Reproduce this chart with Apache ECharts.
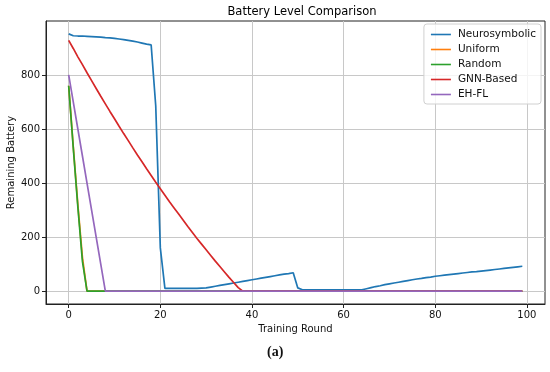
<!DOCTYPE html>
<html>
<head>
<meta charset="utf-8">
<script src="https://cdn.jsdelivr.net/npm/echarts@6/dist/echarts.min.js"></script>
<style>html,body{margin:0;padding:0;background:#fff}#c{width:550px;height:372px}</style>
</head>
<body>
<div id="c"></div>
<script>
const rounds = [0,1,2,3,4,5,6,7,8,9,10,11,12,13,14,15,16,17,18,19,20,21,22,23,24,25,26,27,28,29,30,31,32,33,34,35,36,37,38,39,40,41,42,43,44,45,46,47,48,49,50,51,52,53,54,55,56,57,58,59,60,61,62,63,64,65,66,67,68,69,70,71,72,73,74,75,76,77,78,79,80,81,82,83,84,85,86,87,88,89,90,91,92,93,94,95,96,97,98,99];

const neurosymbolic = [952,945,944,944,943,942,941,940,938,937,
  935,933,931,928,925,922,918,914,911,685,
  160,10,10,10,10,10,10,10,10,11,
  12,15,18,21,24,27,30,33,36,39,
  42,45,48,51,54,57,60,63,65,68,
  12,5,5,5,5,5,5,5,5,5,
  5,5,5,5,5,9,13,17,20,24,
  27,30,33,36,39,42,45,47,50,52,
  55,57,59,61,63,65,67,69,71,72,
  74,76,78,80,82,84,86,88,90,92];

const uniform = [760,535,320,125,0,0,0,0,0,0,
  0,0,0,0,0,0,0,0,0,0, 0,0,0,0,0,0,0,0,0,0,
  0,0,0,0,0,0,0,0,0,0, 0,0,0,0,0,0,0,0,0,0,
  0,0,0,0,0,0,0,0,0,0, 0,0,0,0,0,0,0,0,0,0,
  0,0,0,0,0,0,0,0,0,0, 0,0,0,0,0,0,0,0,0,0,
  0,0,0,0,0,0,0,0,0,0];

const random = [760,530,312,110,0,0,0,0,0,0,
  0,0,0,0,0,0,0,0,0,0, 0,0,0,0,0,0,0,0,0,0,
  0,0,0,0,0,0,0,0,0,0, 0,0,0,0,0,0,0,0,0,0,
  0,0,0,0,0,0,0,0,0,0, 0,0,0,0,0,0,0,0,0,0,
  0,0,0,0,0,0,0,0,0,0, 0,0,0,0,0,0,0,0,0,0,
  0,0,0,0,0,0,0,0,0,0];

const gnnBased = [928,898,867,838,808,779,750,721,693,665,
  638,610,583,557,530,504,479,453,428,403,
  379,355,331,308,285,262,239,217,195,174,
  153,132,111,91,71,51,32,13,0,0,
  0,0,0,0,0,0,0,0,0,0, 0,0,0,0,0,0,0,0,0,0,
  0,0,0,0,0,0,0,0,0,0, 0,0,0,0,0,0,0,0,0,0,
  0,0,0,0,0,0,0,0,0,0, 0,0,0,0,0,0,0,0,0,0];

const ehfl = [800,700,600,500,400,300,200,100,0,0,
  0,0,0,0,0,0,0,0,0,0, 0,0,0,0,0,0,0,0,0,0,
  0,0,0,0,0,0,0,0,0,0, 0,0,0,0,0,0,0,0,0,0,
  0,0,0,0,0,0,0,0,0,0, 0,0,0,0,0,0,0,0,0,0,
  0,0,0,0,0,0,0,0,0,0, 0,0,0,0,0,0,0,0,0,0,
  0,0,0,0,0,0,0,0,0,0];

const seriesNames = ['Neurosymbolic','Uniform','Random','GNN-Based','EH-FL'];
const seriesValues = [neurosymbolic, uniform, random, gnnBased, ehfl];
const colors = ['#1f77b4','#ff7f0e','#2ca02c','#d62728','#9467bd'];
const xTicks = [0,20,40,60,80,100];
const yTicks = [0,200,400,600,800];

const FONT = 'DejaVu Sans';
const chart = echarts.init(document.getElementById('c'), null, {renderer:'canvas'});
const axisCommon = {
  axisLine:{show:true,onZero:false,lineStyle:{color:'#222',width:1}},
  axisTick:{show:true,length:4,lineStyle:{color:'#222',width:1}},
  splitLine:{show:true,lineStyle:{color:'#c8c8c8',width:1}},
  nameMoveOverlap:false,
  nameTextStyle:{fontFamily:FONT,fontSize:10,color:'#111'}
};
chart.setOption({
  animation:false,
  backgroundColor:'#fff',
  title:{text:'Battery Level Comparison',left:297,top:1,textAlign:'center',
    textStyle:{fontFamily:FONT,fontSize:11.5,fontWeight:'normal',color:'#000'}},
  legend:{orient:'vertical',right:9,top:24,itemWidth:20,itemHeight:12,itemGap:4,
    icon:'path://M0,0 L20,0 L20,1.6 L0,1.6 Z',
    padding:[5,5,4,7],backgroundColor:'rgba(255,255,255,0.8)',borderColor:'#d0d0d0',borderWidth:1,borderRadius:3,
    textStyle:{fontFamily:FONT,fontSize:10.5,color:'#111',padding:[0,0,0,2]},
    data:seriesNames},
  grid:{left:46,right:5,top:21,bottom:68,show:true,borderColor:'#222',borderWidth:1,containLabel:false,outerBoundsMode:'none'},
  xAxis:Object.assign({},axisCommon,{type:'value',min:-4.95,max:103.95,
    name:'Training Round',nameLocation:'middle',nameGap:20,
    axisTick:Object.assign({},axisCommon.axisTick,{customValues:xTicks}),
    axisLabel:{customValues:xTicks,fontFamily:FONT,fontSize:10,color:'#111',margin:6}}),
  yAxis:Object.assign({},axisCommon,{type:'value',min:-47.6,max:999.6,
    name:'Remaining Battery',nameLocation:'middle',nameGap:30,
    axisTick:Object.assign({},axisCommon.axisTick,{customValues:yTicks}),
    axisLabel:{customValues:yTicks,fontFamily:FONT,fontSize:10,color:'#111',margin:6}}),
  graphic:[{type:'text',left:267,top:345,style:{text:'(a)',fontFamily:'Liberation Serif',fontSize:14,fontWeight:'bold',fill:'#111'}}],
  series:seriesNames.map((n,k)=>({
    name:n,type:'line',symbol:'none',showSymbol:false,
    data:rounds.map((r,i)=>[r,seriesValues[k][i]]),
    lineStyle:{width:1.7,color:colors[k]},itemStyle:{color:colors[k]},
    emphasis:{disabled:true}
  }))
});
</script>
</body>
</html>
